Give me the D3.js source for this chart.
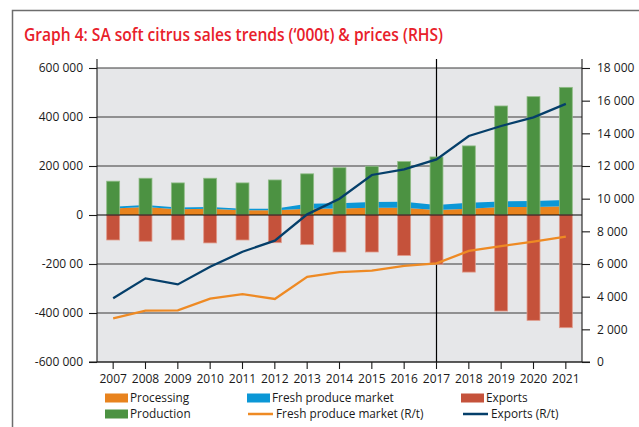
<!DOCTYPE html>
<html>
<head>
<meta charset="utf-8">
<script src="https://cdn.jsdelivr.net/npm/d3@7"></script>
<style>
  body { margin: 0; background: #fff; }
  svg text { font-family: "Open Sans", "Noto Sans", sans-serif; fill: #1a1a1a; }
</style>
</head>
<body>
<svg width="639" height="427"></svg>
<script>
const years = [2007, 2008, 2009, 2010, 2011, 2012, 2013, 2014, 2015, 2016, 2017, 2018, 2019, 2020, 2021];
const production = [138000, 150000, 131000, 150000, 131000, 143000, 168000, 193000, 199000, 218000, 237000, 282000, 445000, 483000, 521000];
const exportsVol = [-102000, -107000, -102000, -114000, -102000, -113000, -121000, -151000, -151000, -165000, -201000, -233000, -392000, -430000, -460000];
const processing = [26500, 32600, 23000, 26000, 19000, 19000, 26000, 27000, 30000, 30000, 20400, 26000, 32600, 32600, 35500];
const freshMarket = [7500, 8000, 8000, 6600, 7000, 7000, 20000, 20500, 23000, 24000, 20000, 24000, 23000, 25000, 26000];
const freshPrice = [2670, 3140, 3160, 3880, 4160, 3860, 5220, 5500, 5590, 5880, 6040, 6800, 7100, 7370, 7670];
const exportPrice = [3900, 5120, 4750, 5830, 6750, 7430, 9040, 10000, 11450, 11800, 12400, 13840, 14450, 14980, 15800];

const leftTicks = [-600000, -400000, -200000, 0, 200000, 400000, 600000];
const leftLabels = ["-600 000", "-400 000", "-200 00", "0", "200 000", "400 000", "600 000"];
const rightTicks = [0, 2000, 4000, 6000, 8000, 10000, 12000, 14000, 16000, 18000];

const col = {
    processing: "#e8831e",
    fresh: "#0b97d6",
    exports: "#c5523b",
    production: "#4c9242",
    freshLine: "#ee8a24",
    exportLine: "#053f6a",
    bg: "#e6e7e9"
};

const svg = d3.select("svg");
const pLeft = 97, pRight = 582, pTop = 68, pBottom = 362;

const x = d3.scaleBand().domain(years).range([pLeft, pRight]).paddingInner(0.6).paddingOuter(0.3);
const cx = d => x(d) + x.bandwidth() / 2;
const y = d3.scaleLinear().domain([-600000, 600000]).range([pBottom, pTop]);
const y2 = d3.scaleLinear().domain([0, 18000]).range([pBottom, pTop]);

// outer frame
svg.append("path")
    .attr("d", "M12.5,427V10.5H639")
    .attr("fill", "none").attr("stroke", "#6d6d6d").attr("stroke-width", 1.5);

// title: the original face is condensed, so squeeze it to the same span
svg.append("text")
    .attr("x", 24).attr("y", 40.5)
    .attr("textLength", 419).attr("lengthAdjust", "spacingAndGlyphs")
    .style("font-size", "18.5px").style("font-weight", 600).style("fill", "#e8202a")
    .text("Graph 4: SA soft citrus sales trends (\u2018000t) & prices (RHS)");

// plot background
svg.append("rect")
    .attr("x", pLeft).attr("y", pTop).attr("width", pRight - pLeft).attr("height", pBottom - pTop)
    .attr("fill", col.bg);

// gridlines
svg.append("g").selectAll("line")
    .data(leftTicks.filter(d => d !== 0))
    .join("line")
    .attr("x1", pLeft).attr("x2", pRight)
    .attr("y1", d => y(d)).attr("y2", d => y(d))
    .attr("stroke", "#3a3a3a").attr("stroke-width", 1.1);

// 2017 marker line
svg.append("line")
    .attr("x1", cx(2017)).attr("x2", cx(2017))
    .attr("y1", 59).attr("y2", pBottom)
    .attr("stroke", "#000").attr("stroke-width", 1.2);

// stacked areas: processing + fresh produce market
const stackRows = years.map((yr, i) => ({ year: yr, processing: processing[i], fresh: freshMarket[i] }));
const stacked = d3.stack().keys(["processing", "fresh"])(stackRows);
const area = d3.area()
    .x(d => cx(d.data.year))
    .y0(d => y(d[0]))
    .y1(d => y(d[1]));
svg.append("g").selectAll("path")
    .data(stacked)
    .join("path")
    .attr("d", area)
    .attr("fill", (d, i) => i === 0 ? col.processing : col.fresh);

// bars
svg.append("g").selectAll("rect")
    .data(years)
    .join("rect")
    .attr("x", d => x(d)).attr("width", x.bandwidth())
    .attr("y", (d, i) => y(production[i]))
    .attr("height", (d, i) => y(0) - y(production[i]))
    .attr("fill", col.production)
    .attr("stroke", "#8fbc86").attr("stroke-width", 0.8);

svg.append("g").selectAll("rect")
    .data(years)
    .join("rect")
    .attr("x", d => x(d)).attr("width", x.bandwidth())
    .attr("y", y(0))
    .attr("height", (d, i) => y(exportsVol[i]) - y(0))
    .attr("fill", col.exports)
    .attr("stroke", "#e09a8a").attr("stroke-width", 0.8);

// zero line
svg.append("line")
    .attr("x1", pLeft).attr("x2", pRight)
    .attr("y1", y(0)).attr("y2", y(0))
    .attr("stroke", "#000").attr("stroke-width", 1.2);

// price lines
const line = d3.line().x((d, i) => cx(years[i])).y(d => y2(d));
svg.append("path").datum(freshPrice)
    .attr("d", line).attr("fill", "none")
    .attr("stroke", col.freshLine).attr("stroke-width", 2.3);
svg.append("path").datum(exportPrice)
    .attr("d", line).attr("fill", "none")
    .attr("stroke", col.exportLine).attr("stroke-width", 2.3);

// axes
const leftAxis = svg.append("g")
    .attr("transform", `translate(${pLeft},0)`)
    .call(d3.axisLeft(y).tickValues(leftTicks).tickSize(8).tickPadding(6)
        .tickFormat((d, i) => leftLabels[i]));
const rightAxis = svg.append("g")
    .attr("transform", `translate(${pRight},0)`)
    .call(d3.axisRight(y2).tickValues(rightTicks).tickSize(8).tickPadding(7)
        .tickFormat(d => d === 0 ? "0" : d3.format(",")(d).replace(",", " ")));
const bottomAxis = svg.append("g")
    .attr("transform", `translate(0,${pBottom})`)
    .call(d3.axisBottom(x).tickSize(7).tickPadding(5).tickSizeOuter(0));

[leftAxis, rightAxis, bottomAxis].forEach(g => {
    g.select(".domain").remove();
    g.selectAll("line").attr("stroke", "#1a1a1a").attr("stroke-width", 1.1);
    g.selectAll("text").style("font-size", "12px").attr("fill", "#1a1a1a");
});

// axis lines
svg.append("line").attr("x1", pLeft).attr("x2", pLeft).attr("y1", 59).attr("y2", pBottom)
    .attr("stroke", "#1a1a1a").attr("stroke-width", 1.1);
svg.append("line").attr("x1", pRight).attr("x2", pRight).attr("y1", 59).attr("y2", pBottom)
    .attr("stroke", "#1a1a1a").attr("stroke-width", 1.1);
svg.append("line").attr("x1", pLeft - 8).attr("x2", pRight + 8).attr("y1", pBottom).attr("y2", pBottom)
    .attr("stroke", "#1a1a1a").attr("stroke-width", 1.2);

// legend
const legendItems = [
    { label: "Processing", type: "rect", color: col.processing, x: 105, y: 398 },
    { label: "Fresh produce market", type: "rect", color: col.fresh, x: 247, y: 398 },
    { label: "Exports", type: "rect", color: col.exports, x: 461, y: 398 },
    { label: "Production", type: "rect", color: col.production, x: 105, y: 414 },
    { label: "Fresh produce market (R/t)", type: "line", color: col.freshLine, x: 248, y: 414 },
    { label: "Exports (R/t)", type: "line", color: col.exportLine, x: 463, y: 414 }
];
const lg = svg.append("g").selectAll("g").data(legendItems).join("g")
    .attr("transform", d => `translate(${d.x},${d.y})`);
lg.filter(d => d.type === "rect").append("rect")
    .attr("x", 0).attr("y", -4.5).attr("width", 23).attr("height", 9)
    .attr("fill", d => d.color);
lg.filter(d => d.type === "line").append("line")
    .attr("x1", 0).attr("x2", 25).attr("y1", 0).attr("y2", 0)
    .attr("stroke", d => d.color).attr("stroke-width", 2.5);
lg.append("text")
    .attr("x", d => d.type === "rect" ? 25 : 28)
    .attr("y", 0).attr("dy", "0.35em")
    .style("font-size", "11.8px")
    .text(d => d.label);
</script>
</body>
</html>
